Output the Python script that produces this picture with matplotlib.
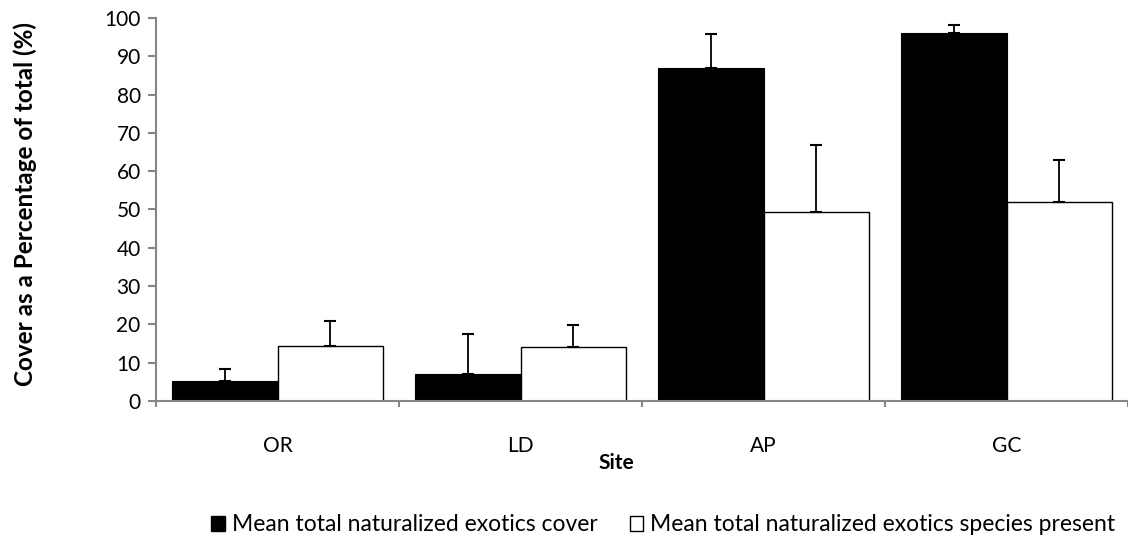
import numpy as np
import matplotlib.pyplot as plt
from matplotlib.patches import Patch

sites = ["OR", "LD", "AP", "GC"]
cover_mean = [5.2, 7.0, 86.9, 96.1]
cover_err = [3.2, 10.5, 8.9, 2.0]
species_mean = [14.4, 14.0, 49.3, 52.0]
species_err = [6.6, 5.8, 17.5, 11.0]

plt.rcParams['font.family'] = ['Lato', 'DejaVu Sans']
grey = "#868686"

fig = plt.figure(figsize=(11.28, 5.44), dpi=100)
ax = fig.add_axes([0.1383, 0.2629, 0.8617, 0.7041])

x = np.arange(len(sites))
w = 0.435
ax.bar(x - w / 2, cover_mean, w, color="black", edgecolor="black", linewidth=0.8)
ax.bar(x + w / 2, species_mean, w, color="white", edgecolor="black", linewidth=1.0)
# one-sided error bars
ax.errorbar(x - w / 2, cover_mean, yerr=[np.zeros(4), cover_err], fmt="none",
            ecolor="black", elinewidth=1.3, capsize=4.5, capthick=1.5)
ax.errorbar(x + w / 2, species_mean, yerr=[np.zeros(4), species_err], fmt="none",
            ecolor="black", elinewidth=1.3, capsize=4.5, capthick=1.5)

ax.set_xlim(-0.5, 3.5)
ax.set_ylim(0, 100)
ax.set_yticks(np.arange(0, 101, 10))
ax.set_xticks(np.arange(-0.5, 4, 1))
ax.set_xticklabels([])
ax.set_xticks(x, minor=True)
ax.set_xticklabels(sites, minor=True)
ax.tick_params(axis="x", which="minor", length=0, pad=25, labelsize=15)
ax.tick_params(axis="x", which="major", length=4, color=grey, width=1.5)
ax.tick_params(axis="y", length=6, color=grey, width=1.5, labelsize=15, pad=5)

for s in ["top", "right"]:
    ax.spines[s].set_visible(False)
for s in ["left", "bottom"]:
    ax.spines[s].set_color(grey)
    ax.spines[s].set_linewidth(1.5)

ax.set_xlabel("Site", fontweight="bold", fontsize=15)
ax.xaxis.set_label_coords(0.474, -0.135)
fig.text(25 / 1128, 0.625, "Cover as a Percentage of total (%)", fontweight="bold",
         fontsize=17.5, rotation=90, ha="center", va="center")

handles = [Patch(facecolor="black", edgecolor="black"),
           Patch(facecolor="white", edgecolor="black")]
fig.legend(handles, ["Mean total naturalized exotics cover",
                     "Mean total naturalized exotics species present"],
           loc="center", bbox_to_anchor=(0.588, 0.035), ncol=2, frameon=False,
           fontsize=16.5, handlelength=0.6, handleheight=0.6, handletextpad=0.3,
           columnspacing=1.4)

fig.savefig("out.png", dpi=100)
